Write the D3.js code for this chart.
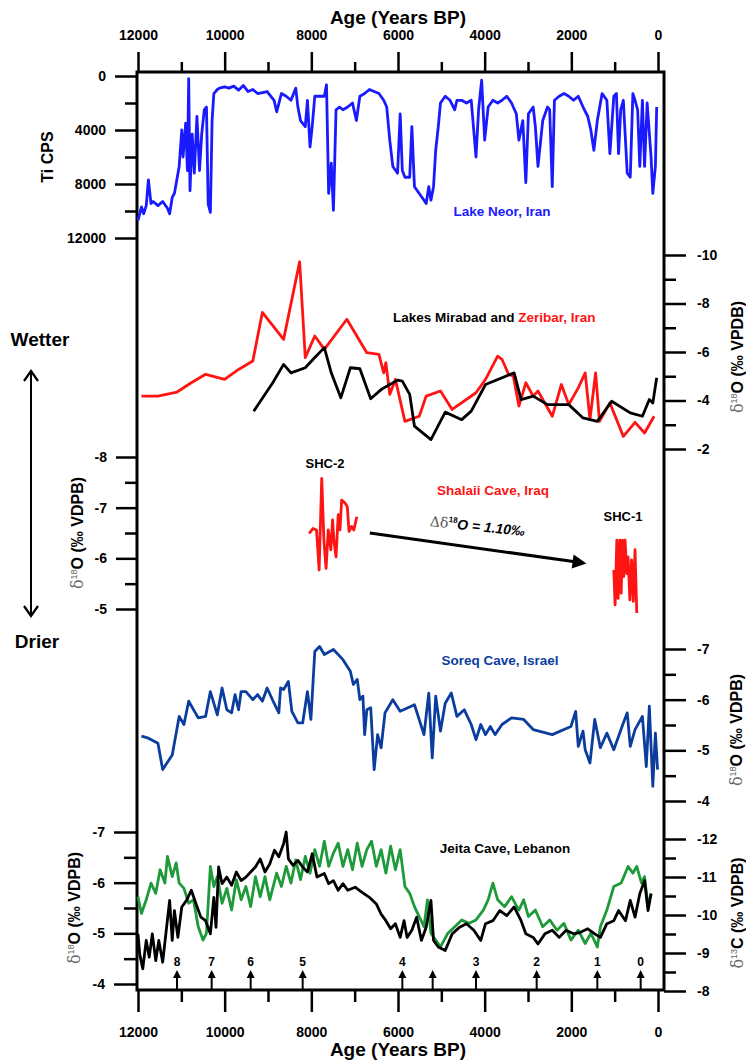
<!DOCTYPE html>
<html lang="en">
<head>
<meta charset="UTF-8">
<title>Holocene hydroclimate records</title>
<style>
  body { margin: 0; background: #fff; }
  svg { display: block; font-family: "Liberation Sans", Arial, sans-serif; font-weight: bold; }
  .tick line { stroke: #000; stroke-width: 2.5; }
  .tick text { font-size: 14px; font-weight: bold; fill: #000; font-family: "Liberation Sans", Arial, sans-serif; }
  .series { fill: none; stroke-width: 2.8; stroke-linejoin: round; }
</style>
</head>
<body>
<svg id="chart"></svg>
<script src="https://cdn.jsdelivr.net/npm/d3@7"></script>
<script>

// ---- data (age in years BP) ----
var neorAge = [12000, 11920, 11870, 11810, 11760, 11700, 11650, 11540, 11430, 11320, 11270, 11210, 11160, 11050, 10990, 10960, 10900, 10860, 10830, 10800, 10750, 10700, 10640, 10580, 10530, 10470, 10420, 10380, 10330, 10290, 10250, 10170, 10120, 10000, 9900, 9790, 9680, 9570, 9460, 9350, 9240, 9020, 8860, 8800, 8690, 8580, 8470, 8360, 8310, 8250, 8140, 8090, 8030, 7980, 7920, 7810, 7700, 7650, 7600, 7540, 7490, 7430, 7350, 7270, 7160, 7050, 6960, 6880, 6770, 6660, 6550, 6440, 6330, 6260, 6190, 6120, 6010, 5950, 5900, 5840, 5730, 5680, 5620, 5510, 5400, 5350, 5290, 5240, 5180, 5130, 5070, 5020, 4910, 4800, 4690, 4640, 4530, 4420, 4310, 4200, 4140, 4070, 4000, 3920, 3810, 3700, 3600, 3490, 3380, 3270, 3210, 3120, 3050, 2990, 2880, 2830, 2770, 2660, 2550, 2500, 2440, 2390, 2280, 2170, 2060, 1950, 1840, 1730, 1620, 1550, 1480, 1400, 1290, 1180, 1110, 1020, 960, 910, 860, 800, 710, 640, 580, 530, 470, 420, 360, 310, 250, 160, 120, 60, 30];
var neorTi = [10700, 9700, 10200, 9600, 7700, 9450, 9300, 9600, 9300, 9800, 10200, 9000, 8700, 6700, 4000, 6000, 3500, 7000, 200, 8500, 4300, 7200, 3000, 7000, 4300, 2500, 2300, 9500, 10100, 3300, 1300, 1000, 900, 800, 900, 750, 1050, 700, 1150, 1000, 1300, 1150, 1800, 2650, 1300, 1500, 1800, 900, 2300, 3300, 3750, 1800, 5250, 3750, 1500, 1500, 1500, 650, 8700, 6450, 9950, 2500, 2300, 2500, 2300, 2000, 3300, 1500, 1300, 1000, 1150, 1300, 1800, 2300, 4750, 6700, 7200, 2800, 7000, 7500, 7500, 3750, 8200, 8700, 9200, 9450, 8200, 9200, 8200, 5500, 3750, 2000, 1500, 1800, 2500, 1800, 1800, 2000, 1800, 6000, 2500, 300, 4750, 2300, 1800, 2000, 1800, 1500, 2000, 2800, 4750, 3300, 7900, 2800, 2300, 3750, 6700, 3300, 2300, 2500, 8200, 1800, 1500, 1300, 1500, 1800, 1500, 2300, 3000, 4000, 5500, 3300, 1300, 1800, 5750, 1500, 1300, 5750, 2500, 1800, 7200, 7500, 1300, 1800, 2500, 6700, 1800, 6700, 2000, 6000, 8700, 6700, 2300];

var zeribarAge = [11920, 11540, 11100, 10770, 10440, 10000, 9680, 9350, 9130, 8640, 8270, 8140, 7920, 7700, 7180, 6720, 6440, 6330, 6280, 6190, 6060, 5840, 5510, 5350, 5020, 4750, 4200, 3980, 3700, 3600, 3450, 3340, 3210, 3050, 2880, 2770, 2440, 2230, 2060, 1840, 1680, 1570, 1440, 1350, 1110, 800, 530, 310, 90];
var zeribarD18O = [-4.18, -4.18, -4.35, -4.73, -5.08, -4.87, -5.28, -5.63, -7.63, -6.52, -9.72, -5.77, -6.66, -6.11, -7.35, -5.97, -5.9, -5.14, -5.56, -4.25, -4.87, -3.14, -3.35, -4.18, -4.39, -3.63, -4.32, -4.87, -5.83, -5.7, -5.08, -5.01, -3.77, -4.73, -4.18, -4.39, -3.35, -4.66, -3.83, -4.52, -5.14, -3.21, -5.14, -3.14, -3.9, -2.52, -3.1, -2.66, -3.35];

var mirabadAge = [9330, 8890, 8640, 8470, 8140, 7920, 7700, 7540, 7320, 7100, 6880, 6630, 6390, 6010, 5900, 5730, 5620, 5240, 4910, 4530, 4310, 3980, 3320, 3160, 2880, 2550, 2060, 1730, 1400, 1070, 640, 360, 200, 120, 30];
var mirabadD18O = [-3.56, -4.73, -5.49, -5.14, -5.35, -5.77, -6.18, -5.14, -4.11, -5.35, -5.31, -4.07, -4.45, -4.84, -4.8, -4.25, -2.94, -2.39, -3.52, -3.21, -3.56, -4.66, -5.14, -4.04, -4.18, -3.83, -3.83, -3.28, -3.14, -3.97, -3.49, -3.35, -4.04, -3.9, -4.94];

var shc2Age = [8050, 7960, 7880, 7820, 7760, 7710, 7660, 7610, 7550, 7510, 7480, 7430, 7380, 7340, 7300, 7220, 7170, 7130, 7070, 7020, 6950];
var shc2D18O = [-6.49, -6.59, -6.56, -5.77, -7.58, -6.36, -5.80, -6.56, -6.17, -6.76, -6.36, -6.03, -6.86, -6.56, -7.15, -7.09, -7.02, -6.53, -6.63, -6.56, -6.82];
var shc1Age = [1020, 990, 950, 920, 880, 850, 820, 790, 760, 720, 690, 650, 610, 570, 530, 490];
var shc1D18O = [-5.77, -5.08, -6.36, -5.21, -6.36, -5.31, -6.36, -5.64, -6.36, -5.70, -6.03, -5.18, -5.97, -5.15, -6.17, -4.92];

var soreqAge = [11920, 11760, 11540, 11430, 11210, 11050, 10940, 10830, 10610, 10440, 10330, 10170, 10060, 9950, 9840, 9760, 9680, 9620, 9510, 9350, 9240, 9130, 9020, 8860, 8750, 8710, 8640, 8530, 8450, 8310, 8200, 8090, 8010, 7920, 7810, 7700, 7490, 7270, 7100, 7030, 6940, 6880, 6810, 6770, 6720, 6630, 6550, 6470, 6390, 6300, 6120, 5950, 5620, 5400, 5290, 5210, 5130, 5020, 4910, 4770, 4640, 4470, 4310, 4200, 4090, 3980, 3870, 3760, 3600, 3380, 3100, 2880, 2440, 2010, 1900, 1840, 1730, 1680, 1570, 1460, 1330, 1180, 1020, 800, 710, 640, 530, 360, 270, 200, 120, 60, 10];
var soreqD18O = [-5.28, -5.24, -5.14, -4.62, -4.91, -5.67, -5.51, -5.97, -5.64, -5.67, -6.16, -5.70, -6.23, -5.80, -5.74, -6.10, -5.80, -6.16, -6.16, -6.00, -6.10, -5.97, -6.23, -5.93, -5.74, -6.23, -6.20, -6.36, -5.77, -5.54, -5.54, -6.16, -5.61, -6.95, -7.05, -6.89, -6.99, -6.79, -6.56, -6.30, -6.40, -6.00, -6.07, -5.31, -5.80, -5.84, -4.62, -5.31, -5.05, -5.74, -6.00, -5.77, -5.90, -5.31, -6.13, -4.85, -6.07, -5.38, -5.93, -6.13, -5.67, -5.80, -5.51, -5.21, -5.51, -5.31, -5.47, -5.31, -5.51, -5.64, -5.61, -5.41, -5.31, -5.47, -5.77, -5.08, -5.38, -5.01, -4.75, -5.61, -5.05, -5.34, -5.01, -5.54, -5.74, -5.08, -5.41, -5.67, -4.68, -5.87, -4.29, -5.34, -4.62];

var jeitaAge = [12000, 11960, 11890, 11810, 11740, 11670, 11590, 11520, 11430, 11340, 11270, 11210, 11160, 11080, 10990, 10880, 10770, 10660, 10550, 10440, 10330, 10250, 10200, 10140, 10060, 9950, 9840, 9730, 9620, 9510, 9400, 9290, 9180, 9070, 8960, 8850, 8750, 8640, 8580, 8530, 8420, 8310, 8200, 8090, 7980, 7870, 7700, 7600, 7490, 7380, 7270, 7160, 6990, 6830, 6660, 6500, 6390, 6280, 6170, 6060, 5950, 5860, 5790, 5680, 5570, 5460, 5350, 5240, 5180, 5070, 4910, 4750, 4580, 4420, 4250, 4090, 3980, 3810, 3650, 3490, 3320, 3160, 3050, 2880, 2770, 2610, 2440, 2280, 2120, 1950, 1790, 1620, 1460, 1330, 1180, 1020, 910, 750, 640, 530, 420, 310, 230, 160];
var jeitaD18O = [-4.99, -4.59, -4.30, -4.86, -4.53, -4.99, -4.46, -4.86, -4.43, -5.12, -5.65, -4.86, -5.45, -4.92, -5.52, -5.65, -5.85, -5.58, -5.32, -5.25, -4.99, -5.71, -5.12, -6.31, -5.98, -6.11, -5.95, -6.21, -6.04, -6.11, -6.21, -6.31, -6.47, -6.21, -6.37, -6.64, -6.51, -6.77, -7.0, -6.47, -6.34, -6.44, -6.31, -6.21, -6.57, -6.11, -6.18, -5.98, -6.04, -5.85, -5.98, -5.85, -5.91, -5.81, -5.71, -5.58, -5.38, -5.25, -5.09, -5.19, -4.92, -5.25, -4.92, -5.06, -5.32, -4.86, -5.12, -5.65, -4.86, -4.73, -4.66, -4.99, -5.12, -5.19, -5.06, -4.86, -5.19, -5.25, -5.45, -5.35, -5.52, -5.25, -4.99, -4.92, -4.79, -4.99, -5.06, -4.92, -5.06, -4.99, -5.02, -5.09, -4.99, -4.92, -5.19, -5.25, -5.45, -5.25, -5.65, -5.32, -5.78, -6.04, -5.45, -5.78];

var jeitaCAge = [12000, 11920, 11810, 11700, 11590, 11490, 11380, 11320, 11210, 11120, 11050, 10940, 10830, 10720, 10610, 10500, 10420, 10330, 10250, 10170, 10060, 9950, 9840, 9730, 9620, 9510, 9400, 9290, 9180, 9070, 8960, 8800, 8690, 8580, 8470, 8360, 8250, 8140, 8030, 7920, 7810, 7700, 7600, 7490, 7380, 7270, 7160, 7050, 6940, 6830, 6720, 6610, 6500, 6390, 6280, 6170, 6060, 5950, 5840, 5730, 5620, 5510, 5400, 5320, 5240, 5130, 5020, 4850, 4690, 4530, 4360, 4200, 4030, 3920, 3810, 3700, 3540, 3380, 3210, 3100, 2990, 2830, 2660, 2500, 2330, 2170, 2010, 1840, 1680, 1550, 1400, 1330, 1180, 1020, 850, 690, 580, 490, 380, 310, 230, 160];
var jeitaD13C = [-10.48, -10.04, -10.40, -10.84, -10.57, -11.19, -10.84, -11.54, -11.01, -11.37, -10.84, -10.70, -10.31, -10.40, -9.69, -9.34, -9.52, -11.28, -10.75, -11.01, -10.31, -10.70, -10.13, -10.93, -10.40, -10.75, -10.22, -11.01, -10.48, -11.01, -10.40, -11.10, -10.75, -11.28, -10.84, -11.45, -10.93, -11.54, -11.10, -11.72, -11.28, -11.94, -11.28, -11.63, -11.89, -11.28, -11.72, -11.19, -11.89, -11.28, -11.72, -11.94, -11.28, -11.72, -11.10, -11.81, -11.19, -11.72, -10.75, -10.57, -10.22, -9.96, -9.69, -10.40, -9.52, -9.34, -9.16, -9.52, -9.69, -9.87, -9.78, -9.87, -10.13, -10.40, -10.84, -10.40, -10.22, -10.48, -10.13, -10.40, -9.96, -10.13, -9.69, -9.87, -9.60, -9.78, -9.34, -9.60, -9.25, -9.52, -9.16, -9.69, -10.13, -10.75, -10.84, -11.28, -11.10, -11.28, -10.84, -11.01, -10.22, -10.57];

// Bond events
var bondAge = [11100, 10300, 9400, 8200, 5900, 5200, 4200, 2800, 1400, 400];
var bondLabel = ["8", "7", "6", "5", "4", "", "3", "2", "1", "0"];

// ticks
var ageMajor = [12000, 10000, 8000, 6000, 4000, 2000, 0];
var ageMinor = [11000, 9000, 7000, 5000, 3000, 1000];
var tiMajor = [0, 4000, 8000, 12000];
var tiMinor = [2000, 6000, 10000];
var mirMajor = [-10, -8, -6, -4, -2];
var mirMinor = [-9, -7, -5, -3];
var shaMajor = [-8, -7, -6, -5];
var shaMinor = [-7.5, -6.5, -5.5];
var sorMajor = [-7, -6, -5, -4];
var sorMinor = [-6.5, -5.5, -4.5];
var j18Major = [-7, -6, -5, -4];
var j18Minor = [-6.5, -5.5, -4.5];
var j13Major = [-12, -11, -10, -9, -8];
var j13Minor = [-11.5, -10.5, -9.5, -8.5];

// ---- layout ----
var W = 746, H = 1061;
var box = {left: 137, right: 664, top: 72, bottom: 990};

var svg = d3.select('#chart').attr('width', W).attr('height', H);

var x = d3.scaleLinear().domain([12000, 0]).range([138, 658]);
var yTi  = d3.scaleLinear().domain([0, 12000]).range([76, 238]);
var yMir = d3.scaleLinear().domain([-10, -2]).range([255, 449]);
var ySha = d3.scaleLinear().domain([-8, -5]).range([457, 609]);
var ySor = d3.scaleLinear().domain([-7, -4]).range([649, 801]);
var yJ18 = d3.scaleLinear().domain([-7, -4]).range([832, 984]);
var yJ13 = d3.scaleLinear().domain([-12, -8]).range([839, 991]);

var fmt = function(d) { return String(d); };

// draws a major (labelled) and a minor axis at one spot
function axisPair(make, scale, tx, ty, major, minor, majLen, minLen, pad) {
    var g1 = svg.append('g').attr('transform', 'translate(' + tx + ',' + ty + ')')
        .call(make(scale).tickValues(minor).tickSize(minLen).tickFormat(''));
    var g2 = svg.append('g').attr('transform', 'translate(' + tx + ',' + ty + ')')
        .call(make(scale).tickValues(major).tickSize(majLen).tickPadding(pad).tickFormat(fmt));
    g1.select('.domain').remove();
    g2.select('.domain').remove();
    return g2;
}

axisPair(d3.axisTop, x, 0, box.top, ageMajor, ageMinor, 20, 10, 12);
axisPair(d3.axisBottom, x, 0, box.bottom, ageMajor, ageMinor, 22, 12, 15);
axisPair(d3.axisLeft, yTi, box.left, 0, tiMajor, tiMinor, 22, 12, 9);
axisPair(d3.axisRight, yMir, box.right, 0, mirMajor, mirMinor, 22, 12, 11);
axisPair(d3.axisLeft, ySha, box.left, 0, shaMajor, shaMinor, 21, 12, 9);
axisPair(d3.axisRight, ySor, box.right, 0, sorMajor, sorMinor, 22, 12, 11);
axisPair(d3.axisLeft, yJ18, box.left, 0, j18Major, j18Minor, 23, 13, 9);
axisPair(d3.axisRight, yJ13, box.right, 0, j13Major, j13Minor, 22, 12, 11);

// frame
svg.append('rect')
    .attr('x', box.left).attr('y', box.top)
    .attr('width', box.right - box.left).attr('height', box.bottom - box.top)
    .attr('fill', 'none').attr('stroke', '#000').attr('stroke-width', 3);

// ---- series ----
function drawLine(ages, vals, yScale, color, w) {
    var line = d3.line().x(function(d) { return x(d[0]); }).y(function(d) { return yScale(d[1]); });
    svg.append('path').datum(d3.zip(ages, vals))
        .attr('class', 'series').attr('stroke', color).attr('stroke-width', w).attr('d', line);
}

drawLine(neorAge, neorTi, yTi, '#1a1aff', 3.2);
drawLine(zeribarAge, zeribarD18O, yMir, '#ff1414', 2.8);
drawLine(mirabadAge, mirabadD18O, yMir, '#000', 2.8);
drawLine(shc2Age, shc2D18O, ySha, '#ff1414', 2.6);
drawLine(shc1Age, shc1D18O, ySha, '#ff1414', 2.6);
drawLine(soreqAge, soreqD18O, ySor, '#0b3d9e', 2.8);
drawLine(jeitaCAge, jeitaD13C, yJ13, '#1f9a3a', 3.2);
drawLine(jeitaAge, jeitaD18O, yJ18, '#000', 3.2);

// ---- Bond event arrows ----
var bond = svg.append('g').selectAll('g').data(d3.zip(bondAge, bondLabel)).enter().append('g')
    .attr('transform', function(d) { return 'translate(' + x(d[0]) + ',0)'; });
bond.append('line').attr('x1', 0).attr('x2', 0).attr('y1', box.bottom - 1).attr('y2', 976)
    .attr('stroke', '#000').attr('stroke-width', 2);
bond.append('path').attr('d', 'M0,970 L-4,978 L4,978 Z').attr('fill', '#000');
bond.append('text').attr('y', 966).attr('text-anchor', 'middle')
    .attr('font-size', 12).text(function(d) { return d[1]; });

// ---- texts ----
function label(txt, cx, cy, size, color, anchor) {
    return svg.append('text').attr('x', cx).attr('y', cy)
        .attr('text-anchor', anchor || 'middle').attr('font-size', size)
        .attr('fill', color || '#000').text(txt);
}

label('Age (Years BP)', 398, 24, 19);
label('Age (Years BP)', 398, 1056, 19);
label('Wetter', 40, 346, 19);
label('Drier', 37, 648, 19);

label('Lake Neor, Iran', 502, 216, 13.5, '#1a1aff');
var mz = svg.append('text').attr('x', 393).attr('y', 322).attr('font-size', 13.5);
mz.append('tspan').attr('fill', '#000').text('Lakes Mirabad and ');
mz.append('tspan').attr('fill', '#ff1414').text('Zeribar, Iran');
label('SHC-2', 325, 468, 13);
label('Shalaii Cave, Iraq', 493, 495, 13.5, '#ff1414');
label('SHC-1', 623, 521, 13);
label('Soreq Cave, Israel', 500, 665, 13.5, '#0b3d9e');
label('Jeita Cave, Lebanon', 505, 853, 13.5);

// rotated axis titles
svg.append('text').attr('transform', 'translate(53,157) rotate(-90)')
    .attr('text-anchor', 'middle').attr('font-size', 16).text('Ti CPS');

function deltaTitle(tx, ty, iso, unit) {
    var t = svg.append('text').attr('transform', 'translate(' + tx + ',' + ty + ') rotate(-90)')
        .attr('text-anchor', 'middle').attr('font-size', 16);
    t.append('tspan').attr('font-family', 'DejaVu Serif, serif').attr('font-weight', 'normal')
        .attr('fill', '#666').text('δ');
    t.append('tspan').attr('font-size', 9).attr('font-weight', 'normal').attr('fill', '#666')
        .attr('dy', -6).text(iso);
    t.append('tspan').attr('dy', 6).text(unit);
}
deltaTitle(743, 357, '18', 'O (‰ VPDB)');
deltaTitle(83, 533, '18', 'O (‰ VDPB)');
deltaTitle(742, 730, '18', 'O (‰ VDPB)');
deltaTitle(80, 908, '18', 'O (‰ VDPB)');
deltaTitle(743, 913, '13', 'C (‰ VDPB)');

// Wetter / Drier double arrow
svg.append('line').attr('x1', 31).attr('x2', 31).attr('y1', 372).attr('y2', 615)
    .attr('stroke', '#000').attr('stroke-width', 2);
svg.append('path').attr('d', 'M24,381 L31,371 L38,381').attr('fill', 'none')
    .attr('stroke', '#000').attr('stroke-width', 2.2);
svg.append('path').attr('d', 'M24,606 L31,616 L38,606').attr('fill', 'none')
    .attr('stroke', '#000').attr('stroke-width', 2.2);

// Shalaii shift arrow
var a0 = [x(6650), ySha(-6.5)], a1 = [x(1650), ySha(-5.9)];
var ang = Math.atan2(a1[1] - a0[1], a1[0] - a0[0]);
svg.append('line').attr('x1', a0[0]).attr('y1', a0[1])
    .attr('x2', a1[0] - 8 * Math.cos(ang)).attr('y2', a1[1] - 8 * Math.sin(ang))
    .attr('stroke', '#000').attr('stroke-width', 3);
svg.append('path')
    .attr('transform', 'translate(' + a1[0] + ',' + a1[1] + ') rotate(' + (ang * 180 / Math.PI) + ')')
    .attr('d', 'M0,0 L-14,-7 L-14,7 Z').attr('fill', '#000');

var dt = svg.append('text').attr('transform', 'translate(477,531) rotate(6)')
    .attr('text-anchor', 'middle').attr('font-size', 14);
dt.append('tspan').attr('font-family', 'DejaVu Serif, serif').attr('font-weight', 'normal')
    .attr('fill', '#555').text('Δδ');
dt.append('tspan').attr('font-size', 8).attr('dy', -6).text('18');
dt.append('tspan').attr('dy', 6).attr('font-style', 'italic').text('O = 1.10‰');

</script>
</body>
</html>
